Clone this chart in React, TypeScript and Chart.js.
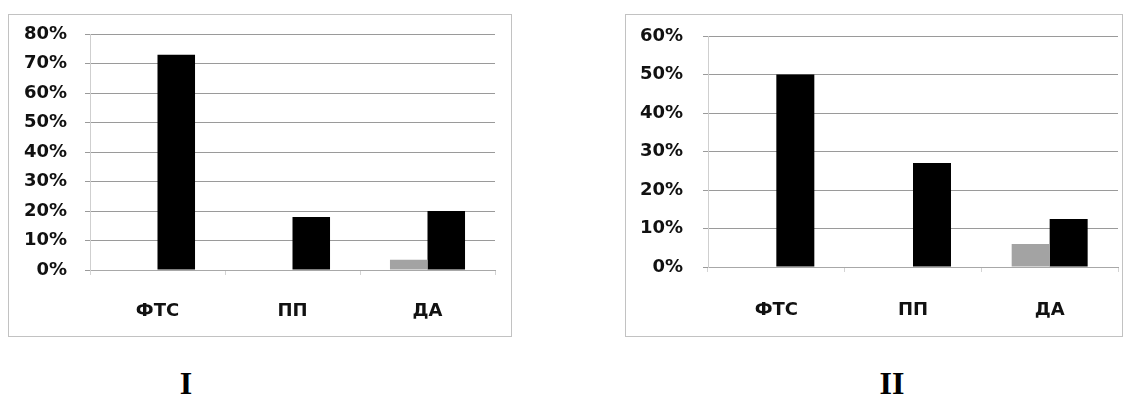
import React, { useEffect, useRef } from 'react';
import { Chart, registerables } from 'chart.js';

Chart.register(...registerables);

const categories = ['ФТС', 'ПП', 'ДА'];
const seriesNames = ['Серия 1', 'Серия 2'];
const seriesColors = ['#a3a3a3', '#000000'];

const chart1Gray = [0, 0, 3.5];
const chart1Black = [73, 18, 20];
const chart1Max = 80;

const chart2Gray = [0, 0, 6];
const chart2Black = [50, 27, 12.5];
const chart2Max = 60;

const yTickStep = 10;
const panelLabels = ['I', 'II'];

type PanelProps = {
  gray: number[];
  black: number[];
  max: number;
  width: number;
  height: number;
  yWidth: number;
  xHeight: number;
  padTop: number;
  padRight: number;
  yLabelPad: number;
  xLabelPad: number;
};

function Panel(p: PanelProps) {
  const ref = useRef<HTMLCanvasElement | null>(null);
  useEffect(() => {
    if (!ref.current) return;
    const tickFont = { family: '"DejaVu Sans", Verdana, sans-serif', size: 18, weight: 'bold' as const };
    const chart = new Chart(ref.current, {
      type: 'bar',
      data: {
        labels: categories,
        datasets: [
          { label: seriesNames[0], data: p.gray, backgroundColor: seriesColors[0], borderWidth: 0 },
          { label: seriesNames[1], data: p.black, backgroundColor: seriesColors[1], borderWidth: 0 },
        ],
      },
      options: {
        animation: false,
        responsive: false,
        devicePixelRatio: 1,
        events: [],
        layout: { padding: { top: p.padTop, right: p.padRight, left: 0, bottom: 0 } },
        plugins: { legend: { display: false }, tooltip: { enabled: false }, title: { display: false } },
        datasets: { bar: { categoryPercentage: 0.556, barPercentage: 1 } },
        scales: {
          x: {
            grid: { drawOnChartArea: false, drawTicks: true, tickLength: 5, color: '#d4d4d4', offset: true },
            border: { display: true, color: '#a8a8a8', width: 1 },
            ticks: { font: tickFont, color: '#111', padding: p.xLabelPad, maxRotation: 0 },
            afterFit: (s: any) => { s.height = p.xHeight; },
          },
          y: {
            min: 0,
            max: p.max,
            grid: { color: '#9a9a9a', lineWidth: 1, drawTicks: true, tickLength: 5 },
            border: { display: true, color: '#cfcfcf', width: 1 },
            ticks: {
              stepSize: yTickStep,
              font: tickFont,
              color: '#111',
              padding: p.yLabelPad,
              callback: (v: any) => `${v}%`,
            },
            afterFit: (s: any) => {
              s.width = p.yWidth;
              s.paddingTop = 0;
              s.paddingBottom = 0;
            },
          },
        },
      },
    });
    return () => chart.destroy();
  }, []);
  return <canvas ref={ref} width={p.width} height={p.height} style={{ display: 'block', width: p.width, height: p.height }} />;
}

export default function App() {
  const boxStyle = (left: number, width: number): React.CSSProperties => ({
    position: 'absolute',
    left,
    top: 14,
    width,
    height: 323,
    boxSizing: 'border-box',
    border: '1px solid #c2c2c2',
    background: '#fff',
  });
  const labelStyle = (center: number): React.CSSProperties => ({
    position: 'absolute',
    left: center - 50,
    top: 367,
    width: 100,
    textAlign: 'center',
    fontFamily: '"Liberation Serif", "Times New Roman", serif',
    fontWeight: 'bold',
    fontSize: 32,
    lineHeight: '32px',
    color: '#000',
  });
  return (
    <div style={{ position: 'absolute', left: 0, top: 0, width: 1125, height: 396, background: '#fff', overflow: 'hidden' }}>
      <div style={boxStyle(8, 504)}>
        <Panel gray={chart1Gray} black={chart1Black} max={chart1Max} width={502} height={321}
          yWidth={81} xHeight={66} padTop={19} padRight={16} yLabelPad={18} xLabelPad={26} />
      </div>
      <div style={boxStyle(625, 498)}>
        <Panel gray={chart2Gray} black={chart2Black} max={chart2Max} width={496} height={321}
          yWidth={82} xHeight={69} padTop={21} padRight={4} yLabelPad={20} xLabelPad={28} />
      </div>
      <div style={labelStyle(186)}>{panelLabels[0]}</div>
      <div style={labelStyle(892)}>{panelLabels[1]}</div>
    </div>
  );
}
